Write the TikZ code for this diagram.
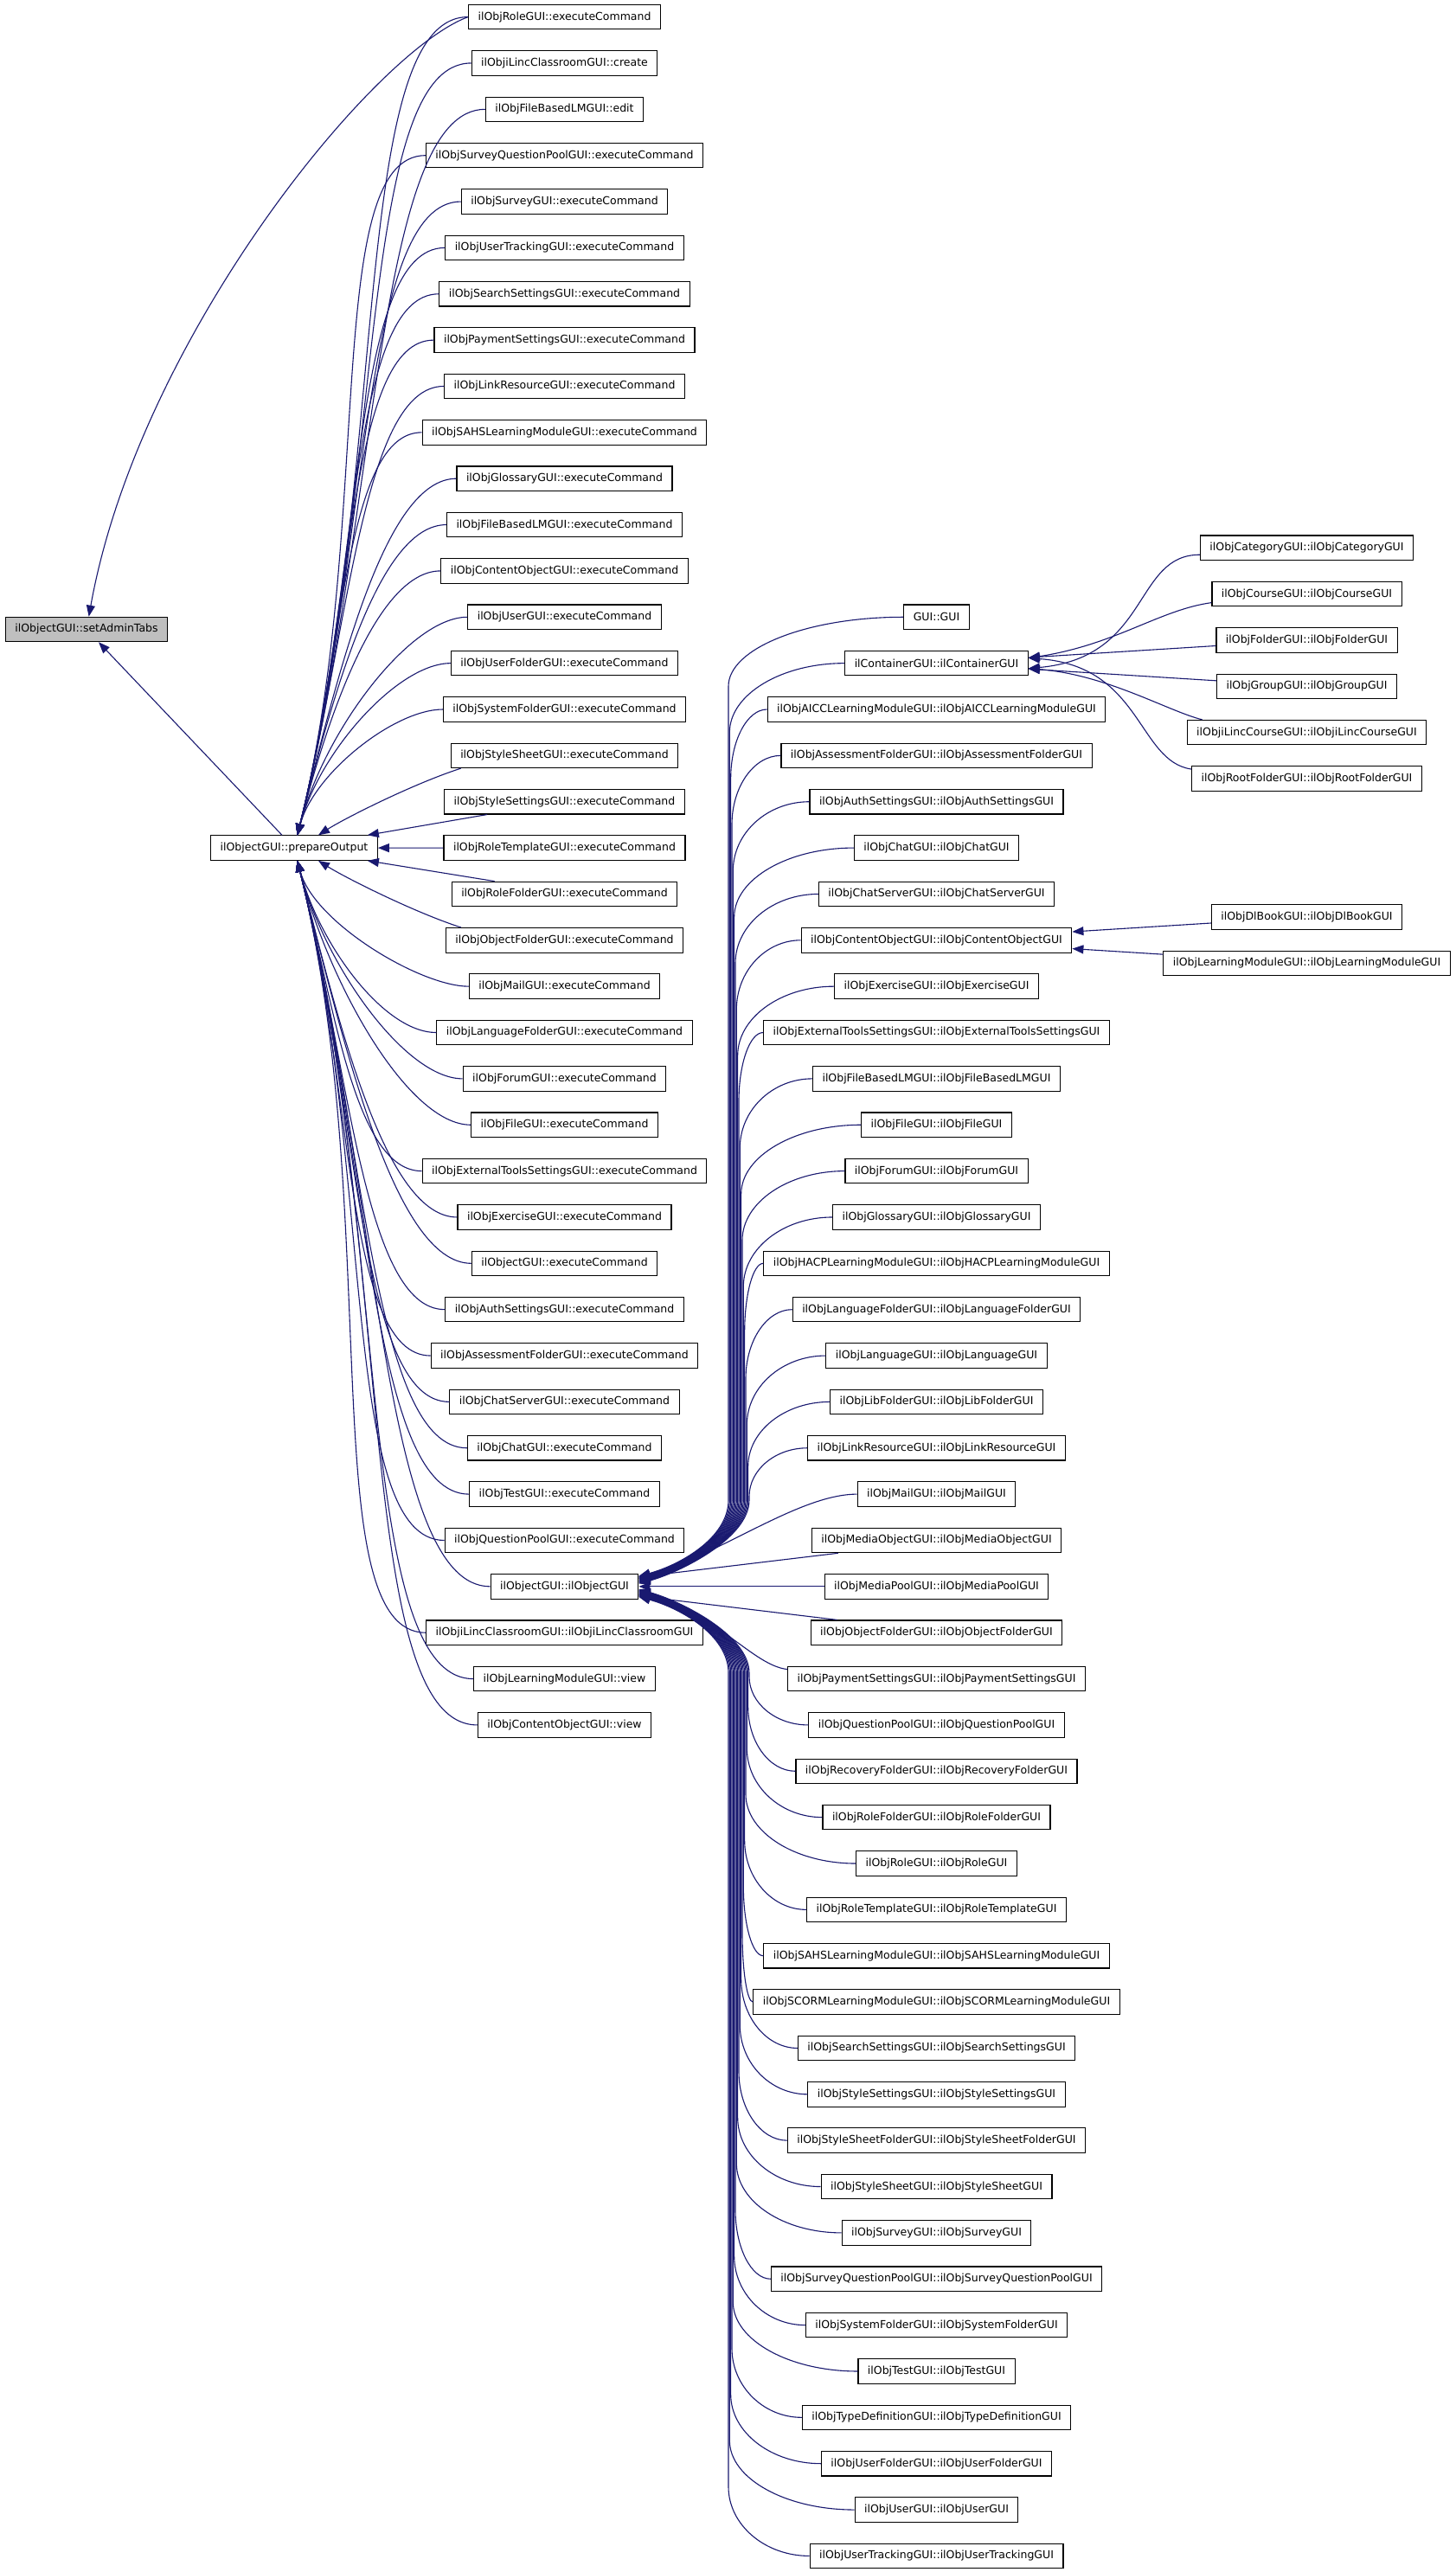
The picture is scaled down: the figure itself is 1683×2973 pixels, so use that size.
\documentclass[tikz,border=0pt]{standalone}
\usepackage{fontspec}
\setmainfont{DejaVu Sans}
\usetikzlibrary{arrows.meta,calc}
\definecolor{edgeblue}{RGB}{25,25,112}
\definecolor{hlgray}{RGB}{191,191,191}
\newcommand\nodefont{\fontsize{12.5pt}{15pt}\selectfont}
\begin{document}
\begin{tikzpicture}[x=1pt,y=-1pt,
  box/.style={draw=black, fill=white, line width=1.1pt, minimum height=28.5pt, inner xsep=11pt, inner ysep=0pt, font=\nodefont},
  edge/.style={draw=edgeblue, line width=1.1pt, -{Triangle[length=13pt,width=10pt]}}]
\fill[white] (0,0) rectangle (1683,2973);
\useasboundingbox (0,0) rectangle (1683,2973);

% column 1
\node[box, fill=hlgray] (sat) at (100,727.5) {ilObjectGUI::setAdminTabs};
\node[box] (po) at (340,980.1) {ilObjectGUI::prepareOutput};

% column 2
\foreach \rw/\txt in {
 1/ilObjRoleGUI::executeCommand,
 2/ilObjiLincClassroomGUI::create,
 3/ilObjFileBasedLMGUI::edit,
 4/ilObjSurveyQuestionPoolGUI::executeCommand,
 5/ilObjSurveyGUI::executeCommand,
 6/ilObjUserTrackingGUI::executeCommand,
 7/ilObjSearchSettingsGUI::executeCommand,
 8/ilObjPaymentSettingsGUI::executeCommand,
 9/ilObjLinkResourceGUI::executeCommand,
 10/ilObjSAHSLearningModuleGUI::executeCommand,
 11/ilObjGlossaryGUI::executeCommand,
 12/ilObjFileBasedLMGUI::executeCommand,
 13/ilObjContentObjectGUI::executeCommand,
 14/ilObjUserGUI::executeCommand,
 15/ilObjUserFolderGUI::executeCommand,
 16/ilObjSystemFolderGUI::executeCommand,
 17/ilObjStyleSheetGUI::executeCommand,
 18/ilObjStyleSettingsGUI::executeCommand,
 19/ilObjRoleTemplateGUI::executeCommand,
 20/ilObjRoleFolderGUI::executeCommand,
 21/ilObjObjectFolderGUI::executeCommand,
 22/ilObjMailGUI::executeCommand,
 23/ilObjLanguageFolderGUI::executeCommand,
 24/ilObjForumGUI::executeCommand,
 25/ilObjFileGUI::executeCommand,
 26/ilObjExternalToolsSettingsGUI::executeCommand,
 27/ilObjExerciseGUI::executeCommand,
 28/ilObjectGUI::executeCommand,
 29/ilObjAuthSettingsGUI::executeCommand,
 30/ilObjAssessmentFolderGUI::executeCommand,
 31/ilObjChatServerGUI::executeCommand,
 32/ilObjChatGUI::executeCommand,
 33/ilObjTestGUI::executeCommand,
 34/ilObjQuestionPoolGUI::executeCommand,
 35/ilObjectGUI::ilObjectGUI,
 36/ilObjiLincClassroomGUI::ilObjiLincClassroomGUI,
 37/ilObjLearningModuleGUI::view,
 38/ilObjContentObjectGUI::view}
 {\node[box] (c\rw) at (652.5,{19.6+53.36*(\rw-1)}) {\txt};}

% column 3
\foreach \rw/\txt in {
 14/GUI::GUI,
 15/ilContainerGUI::ilContainerGUI,
 16/ilObjAICCLearningModuleGUI::ilObjAICCLearningModuleGUI,
 17/ilObjAssessmentFolderGUI::ilObjAssessmentFolderGUI,
 18/ilObjAuthSettingsGUI::ilObjAuthSettingsGUI,
 19/ilObjChatGUI::ilObjChatGUI,
 20/ilObjChatServerGUI::ilObjChatServerGUI,
 21/ilObjContentObjectGUI::ilObjContentObjectGUI,
 22/ilObjExerciseGUI::ilObjExerciseGUI,
 23/ilObjExternalToolsSettingsGUI::ilObjExternalToolsSettingsGUI,
 24/ilObjFileBasedLMGUI::ilObjFileBasedLMGUI,
 25/ilObjFileGUI::ilObjFileGUI,
 26/ilObjForumGUI::ilObjForumGUI,
 27/ilObjGlossaryGUI::ilObjGlossaryGUI,
 28/ilObjHACPLearningModuleGUI::ilObjHACPLearningModuleGUI,
 29/ilObjLanguageFolderGUI::ilObjLanguageFolderGUI,
 30/ilObjLanguageGUI::ilObjLanguageGUI,
 31/ilObjLibFolderGUI::ilObjLibFolderGUI,
 32/ilObjLinkResourceGUI::ilObjLinkResourceGUI,
 33/ilObjMailGUI::ilObjMailGUI,
 34/ilObjMediaObjectGUI::ilObjMediaObjectGUI,
 35/ilObjMediaPoolGUI::ilObjMediaPoolGUI,
 36/ilObjObjectFolderGUI::ilObjObjectFolderGUI,
 37/ilObjPaymentSettingsGUI::ilObjPaymentSettingsGUI,
 38/ilObjQuestionPoolGUI::ilObjQuestionPoolGUI,
 39/ilObjRecoveryFolderGUI::ilObjRecoveryFolderGUI,
 40/ilObjRoleFolderGUI::ilObjRoleFolderGUI,
 41/ilObjRoleGUI::ilObjRoleGUI,
 42/ilObjRoleTemplateGUI::ilObjRoleTemplateGUI,
 43/ilObjSAHSLearningModuleGUI::ilObjSAHSLearningModuleGUI,
 44/ilObjSCORMLearningModuleGUI::ilObjSCORMLearningModuleGUI,
 45/ilObjSearchSettingsGUI::ilObjSearchSettingsGUI,
 46/ilObjStyleSettingsGUI::ilObjStyleSettingsGUI,
 47/ilObjStyleSheetFolderGUI::ilObjStyleSheetFolderGUI,
 48/ilObjStyleSheetGUI::ilObjStyleSheetGUI,
 49/ilObjSurveyGUI::ilObjSurveyGUI,
 50/ilObjSurveyQuestionPoolGUI::ilObjSurveyQuestionPoolGUI,
 51/ilObjSystemFolderGUI::ilObjSystemFolderGUI,
 52/ilObjTestGUI::ilObjTestGUI,
 53/ilObjTypeDefinitionGUI::ilObjTypeDefinitionGUI,
 54/ilObjUserFolderGUI::ilObjUserFolderGUI,
 55/ilObjUserGUI::ilObjUserGUI,
 56/ilObjUserTrackingGUI::ilObjUserTrackingGUI}
 {\node[box] (m\rw) at (1082.5,{19.6+53.36*(\rw-1)}) {\txt};}

% column 4
\node[box] (cat) at (1510.5,633.24) {ilObjCategoryGUI::ilObjCategoryGUI};
\node[box] (cou) at (1510.5,686.60) {ilObjCourseGUI::ilObjCourseGUI};
\node[box] (fol) at (1510.5,739.96) {ilObjFolderGUI::ilObjFolderGUI};
\node[box] (grp) at (1510.5,793.32) {ilObjGroupGUI::ilObjGroupGUI};
\node[box] (ilc) at (1510.5,846.68) {ilObjiLincCourseGUI::ilObjiLincCourseGUI};
\node[box] (rf)  at (1510.5,900.04) {ilObjRootFolderGUI::ilObjRootFolderGUI};
\node[box] (dl)  at (1510.5,1060.12) {ilObjDlBookGUI::ilObjDlBookGUI};
\node[box] (lm)  at (1510.5,1113.48) {ilObjLearningModuleGUI::ilObjLearningModuleGUI};

% edges to setAdminTabs
\draw[edge] (c1.west) .. controls (431,60) and (160,393) .. (sat);
\draw[edge] (po) -- (sat);

% edges column 2 -> prepareOutput
\foreach \rw in {1,...,16,22,23,...,38}{
  \pgfmathsetmacro\myy{19.6+53.36*(\rw-1)}
  \pgfmathsetmacro\myD{abs(980.1-\myy)}
  \pgfmathsetmacro\myS{\myy<980.1 ? 1 : -1}
  \pgfmathsetmacro\myH{40+0.1*\myD}
  \pgfmathsetmacro\myCx{345+0.11*\myD}
  \pgfmathsetmacro\myCy{980.1-(\myS)*(14+0.45*\myD)}
  \draw[edge] (c\rw.west) .. controls ($(c\rw.west)+(-\myH,0)$) and (\myCx,\myCy) .. (po);
}
\draw[edge] ($(c17.south west)+(12,0)$) .. controls (480,905) and (400,945) .. ($(po.north)+(28,0)$);
\draw[edge] ($(c18.south west)+(50,0)$) -- ($(po.north east)+(-12,0)$);
\draw[edge] (c19) -- (po);
\draw[edge] ($(c20.north west)+(50,0)$) -- ($(po.south east)+(-12,0)$);
\draw[edge] ($(c21.north west)+(18,0)$) .. controls (480,1055) and (400,1015) .. ($(po.south)+(28,0)$);

% edges column 3 -> ilObjectGUI::ilObjectGUI
\foreach \rw in {14,15,...,32,38,39,...,56}{
  \pgfmathsetmacro\myy{19.6+53.36*(\rw-1)}
  \pgfmathsetmacro\myD{abs(1833.84-\myy)}
  \pgfmathsetmacro\myS{\myy<1833.84 ? 1 : -1}
  \pgfmathsetmacro\myXb{870-0.025*\myD}
  \pgfmathsetmacro\myW{min(80,0.35*\myD)}
  \pgfmathsetmacro\myWy{\myy+(\myS)*\myW}
  \pgfmathsetmacro\myCwy{\myWy-(\myS)*0.55*\myW}
  \pgfmathsetmacro\myWWy{1833.84-(\myS)*100}
  \pgfmathsetmacro\myPa{\myWWy+(\myS)*45}
  \pgfmathsetmacro\myE{-(\myS)*(2+10*\myD/1120)}
  \pgfmathsetmacro\myPb{\myE-(\myS)*12}
  \draw[edge] (m\rw.west) .. controls ($(m\rw.west)!0.55!(\myXb,\myy)$) and (\myXb,\myCwy) .. (\myXb,\myWy) -- (\myXb,\myWWy) .. controls (\myXb,\myPa) and ($(c35.east)+(45,\myPb)$) .. ($(c35.east)+(0,\myE)$);
}
\draw[edge] (m33.west) .. controls (925,1727) and (835,1795) .. ($(c35.east)+(0,-9)$);
\draw[edge] ($(m34.south west)+(31,0)$) -- ($(c35.east)+(0,-11)$);
\draw[edge] (m35) -- (c35);
\draw[edge] ($(m36.north west)+(31,0)$) -- ($(c35.east)+(0,11)$);
\draw[edge] ($(m37.west)+(0,-11)$) .. controls (870,1925) and (830,1865) .. ($(c35.east)+(0,9)$);

% edges column 4 -> ilContainerGUI
\draw[edge] ($(cat.west)+(0,8)$) .. controls (1310,641) and (1330,760) .. ($(m15.east)+(0,6)$);
\draw[edge] ($(cou.west)+(0,10)$) .. controls (1340,705) and (1290,745) .. ($(m15.east)+(0,-6)$);
\draw[edge] (fol) -- (m15);
\draw[edge] (grp) -- (m15);
\draw[edge] ($(ilc.north west)+(18,0)$) .. controls (1350,822) and (1280,780) .. ($(m15.east)+(0,6)$);
\draw[edge] ($(rf.west)+(0,-11)$) .. controls (1315,880) and (1320,770) .. ($(m15.east)+(0,-6)$);

% edges column 4 -> ilObjContentObjectGUI
\draw[edge] (dl) -- (m21);
\draw[edge] (lm) -- (m21);
\end{tikzpicture}
\end{document}
